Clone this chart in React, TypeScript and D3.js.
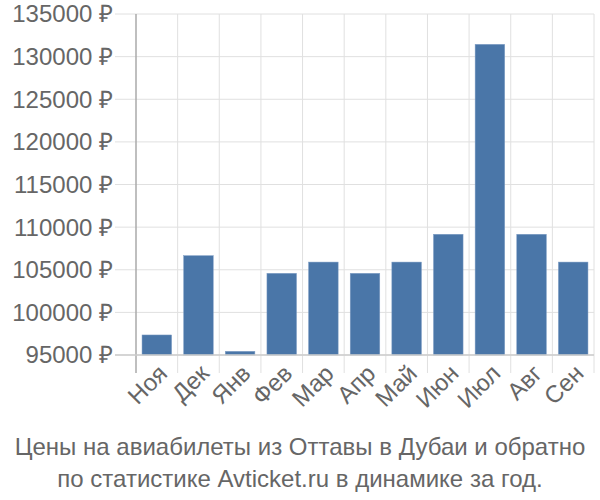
import React from "react";
import * as d3 from "d3";

const months = ["Ноя", "Дек", "Янв", "Фев", "Мар", "Апр", "Май", "Июн", "Июл", "Авг", "Сен"];
const prices = [97350, 106650, 95430, 104580, 105900, 104580, 105900, 109160, 131440, 109160, 105900];
const yTicks = [95000, 100000, 105000, 110000, 115000, 120000, 125000, 130000, 135000];
const titleLines = [
  "Цены на авиабилеты из Оттавы в Дубаи и обратно",
  "по статистике Avticket.ru в динамике за год.",
];

const W = 600;
const H = 500;
const left = 136;
const right = 594;
const top = 14;
const bottom = 355;
const font = "'Liberation Sans', Arial, sans-serif";

export default function App() {
  const x = d3.scaleBand<string>().domain(months).range([left, right]).paddingInner(0.29).paddingOuter(0.145);
  const xb = d3.scaleBand<string>().domain(months).range([left, right]);
  const y = d3.scaleLinear().domain([95000, 135000]).range([bottom, top]);
  return (
    <svg width={W} height={H} style={{ position: "absolute", left: 0, top: 0 }}>
      <rect width={W} height={H} fill="#fff" />
      {yTicks.map((t) => (
        <g key={t}>
          <line x1={115} x2={right} y1={y(t)} y2={y(t)} stroke="#e0e0e0" strokeWidth={1} />
          <text x={113} y={y(t)} dy="0.35em" textAnchor="end" fontFamily={font} fontSize={24} fill="#666">
            {t} ₽
          </text>
        </g>
      ))}
      {months.map((m) => (
        <line key={m} x1={(xb(m) as number) + xb.bandwidth()} x2={(xb(m) as number) + xb.bandwidth()} y1={top} y2={bottom + 18} stroke="#e0e0e0" strokeWidth={1} />
      ))}
      {months.map((m, i) => (
        <rect key={m} x={x(m)} y={y(prices[i])} width={x.bandwidth()} height={bottom - y(prices[i])} fill="#4a76a8" stroke="#7d9cc4" strokeWidth={0.5} />
      ))}
      <line x1={left} x2={left} y1={top} y2={bottom + 18} stroke="#aaa" strokeWidth={1.5} />
      <line x1={115} x2={right} y1={bottom} y2={bottom} stroke="#ccc" strokeWidth={1.5} />
      {months.map((m) => {
        const cx = (xb(m) as number) + xb.bandwidth() / 2 + 6;
        return (
          <text key={m} transform={`translate(${cx},${bottom + 14}) rotate(-45)`} textAnchor="end" dy="0.35em" fontFamily={font} fontSize={24} fill="#666">
            {m}
          </text>
        );
      })}
      {titleLines.map((l, i) => (
        <text key={i} x={300} y={455 + i * 32} textAnchor="middle" fontFamily={font} fontSize={24} fill="#666">
          {l}
        </text>
      ))}
    </svg>
  );
}
